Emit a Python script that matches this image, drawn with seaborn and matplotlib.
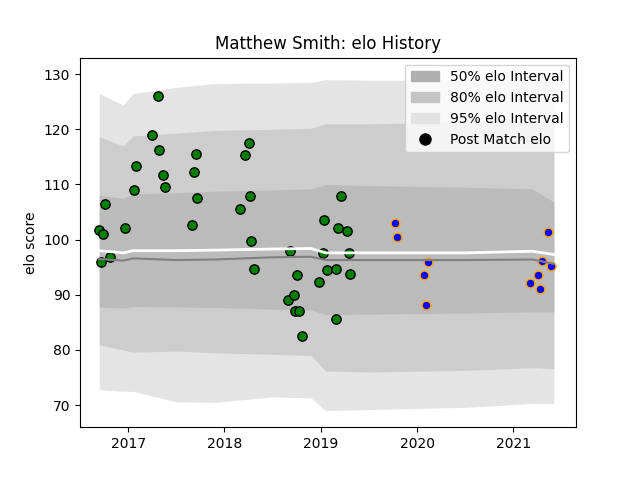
import numpy as np
import pandas as pd
import matplotlib
matplotlib.use("Agg")
import matplotlib.pyplot as plt
import seaborn as sns
from matplotlib.patches import Patch
from matplotlib.lines import Line2D

# interval bands (decimal year knots)
band_t = [2016.70, 2016.95, 2017.05, 2017.5, 2017.9, 2018.5, 2018.9, 2019.05, 2019.5, 2020.5, 2021.2, 2021.42]
hi95 = [126.5, 124.4, 126.5, 127.6, 128.3, 128.4, 128.5, 129.0, 128.9, 128.9, 128.7, 128.5]
hi80 = [118.6, 117.0, 118.8, 119.3, 119.8, 120.0, 120.2, 121.0, 121.0, 121.3, 121.3, 121.0]
hi50 = [108.0, 107.5, 108.3, 108.5, 108.8, 109.0, 109.2, 110.0, 109.8, 109.5, 109.2, 106.8]
mean_line = [98.0, 97.6, 98.0, 98.0, 98.1, 98.3, 98.4, 97.6, 97.6, 97.6, 97.9, 97.3]
median_line = [96.5, 96.2, 96.6, 96.3, 96.4, 96.8, 96.9, 96.3, 96.3, 96.3, 96.4, 95.6]
lo50 = [87.8, 87.6, 87.9, 87.8, 87.7, 87.4, 87.3, 86.4, 86.5, 86.7, 86.9, 86.9]
lo80 = [80.9, 80.0, 79.6, 79.8, 79.5, 79.2, 79.0, 76.2, 76.0, 76.3, 76.8, 76.6]
lo95 = [72.8, 72.5, 72.5, 70.6, 70.5, 71.5, 71.3, 69.0, 69.2, 69.6, 70.3, 70.3]

# post match elo, green = past matches, blue = later ones
green_t = [2016.70, 2016.72, 2016.74, 2016.76, 2016.81, 2016.97, 2017.06, 2017.08, 2017.25, 2017.31,
           2017.32, 2017.36, 2017.38, 2017.66, 2017.68, 2017.70, 2017.72, 2018.16, 2018.21, 2018.25,
           2018.27, 2018.28, 2018.31, 2018.66, 2018.68, 2018.72, 2018.73, 2018.77, 2018.75, 2018.80,
           2018.98, 2019.03, 2019.02, 2019.06, 2019.16, 2019.18, 2019.16, 2019.21, 2019.27, 2019.29, 2019.30]
green_elo = [101.8, 96.0, 101.1, 106.5, 96.9, 102.2, 109.0, 113.4, 118.9, 126.0,
             116.2, 111.8, 109.6, 102.7, 112.2, 115.5, 107.6, 105.6, 115.3, 117.6,
             108.0, 99.8, 94.7, 89.1, 98.0, 90.0, 87.1, 87.1, 93.6, 82.5,
             92.4, 103.6, 97.5, 94.5, 85.6, 102.2, 94.7, 108.0, 101.5, 97.5, 93.8]
blue_t = [2019.77, 2019.79, 2020.07, 2020.11, 2020.09, 2021.17, 2021.26, 2021.28, 2021.30, 2021.36, 2021.39]
blue_elo = [103.1, 100.5, 93.5, 96.0, 88.2, 92.2, 93.5, 91.1, 96.2, 101.3, 95.3]

bands = pd.DataFrame({"t": band_t, "mean": mean_line, "median": median_line})

fig, ax = plt.subplots(figsize=(6.4, 4.8), dpi=100)
ax.fill_between(band_t, lo95, hi95, color="#e4e4e4", lw=0)
ax.fill_between(band_t, lo80, hi80, color="#cdcdcd", lw=0)
ax.fill_between(band_t, lo50, hi50, color="#bbbbbb", lw=0)

sns.scatterplot(x=green_t, y=green_elo, color="green", edgecolor="black", s=45, linewidth=1, ax=ax, zorder=3)
sns.scatterplot(x=blue_t, y=blue_elo, color="blue", edgecolor="orange", s=40, linewidth=1, ax=ax, zorder=3)
sns.lineplot(data=bands, x="t", y="median", color="gray", lw=1.5, ax=ax, zorder=4)
sns.lineplot(data=bands, x="t", y="mean", color="white", lw=2, ax=ax, zorder=4)

ax.set_xlim(2016.5, 2021.65)
ax.set_ylim(66, 133)
ax.set_xticks([2017, 2018, 2019, 2020, 2021])
ax.set_xticklabels(["2017", "2018", "2019", "2020", "2021"])
ax.set_xlabel("")
ax.set_ylabel("elo score")
ax.set_title("Matthew Smith: elo History")

handles = [Patch(color="#b0b0b0", label="50% elo Interval"),
           Patch(color="#c4c4c4", label="80% elo Interval"),
           Patch(color="#e2e2e2", label="95% elo Interval"),
           Line2D([], [], marker="o", color="black", ls="", markersize=8, label="Post Match elo")]
ax.legend(handles=handles, loc="upper right")

fig.savefig("out.png")
